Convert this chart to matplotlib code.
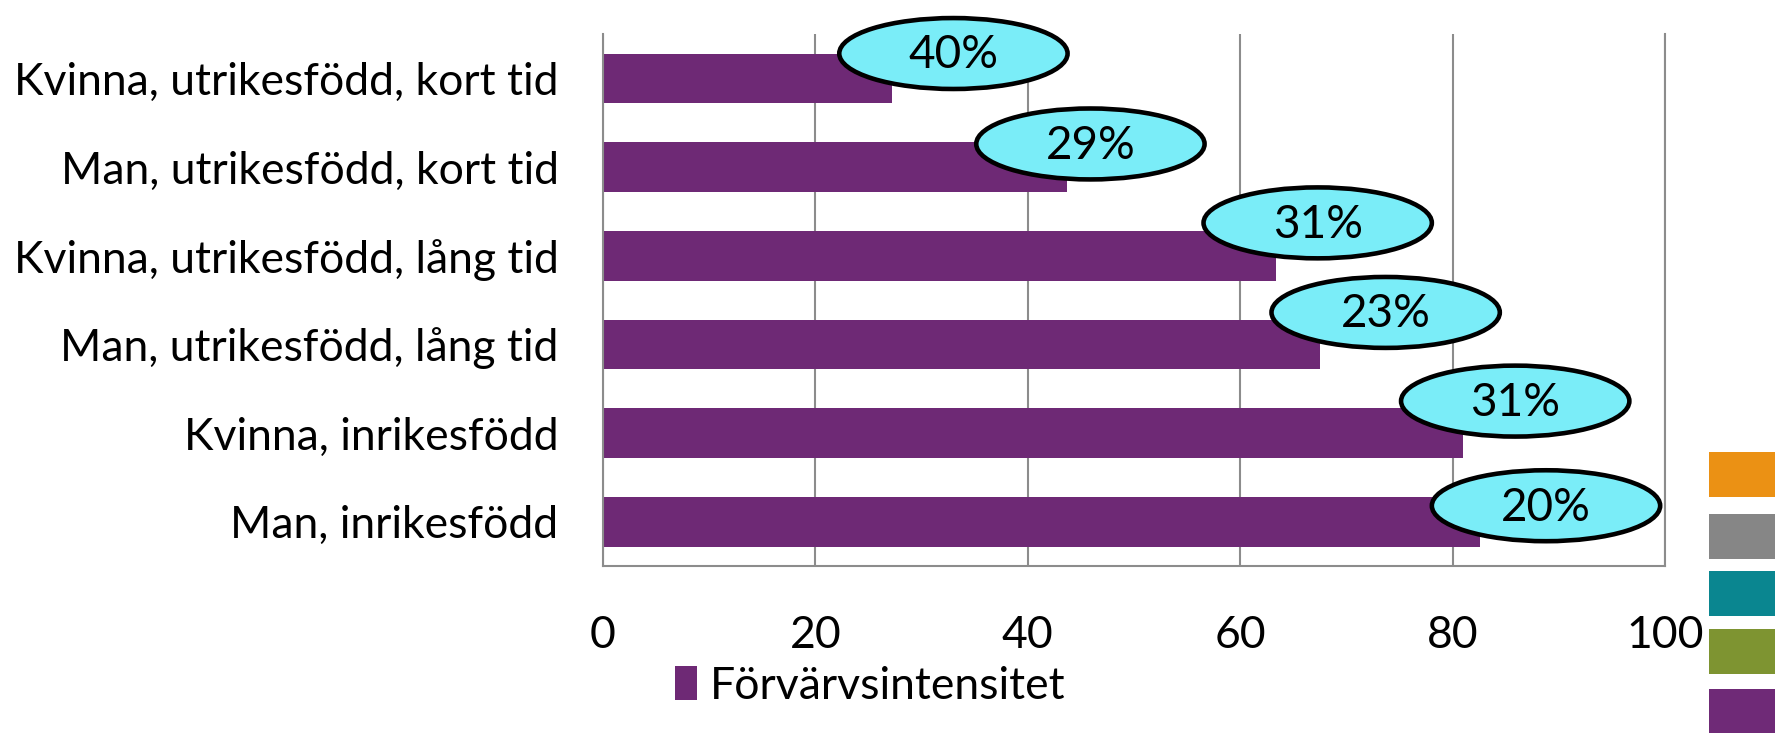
import matplotlib
matplotlib.use("Agg")
import matplotlib.pyplot as plt
from matplotlib.patches import Ellipse, Rectangle

plt.rcParams['font.family'] = ['Lato', 'DejaVu Sans']

# categories, top to bottom
categories = ["Kvinna, utrikesfödd, kort tid",
              "Man, utrikesfödd, kort tid",
              "Kvinna, utrikesfödd, lång tid",
              "Man, utrikesfödd, lång tid",
              "Kvinna, inrikesfödd",
              "Man, inrikesfödd"]
values = [27.2, 43.7, 63.4, 67.5, 81.0, 82.6]
callout_text = ["40%", "29%", "31%", "23%", "31%", "20%"]
# callout centre (x in data units, y offset above bar centre)
callout_x = [33.0, 45.9, 67.3, 73.7, 85.9, 88.8]
callout_dy = [0.28, 0.26, 0.37, 0.36, 0.36, 0.18]
xticks = [0, 20, 40, 60, 80, 100]
side_colors = ["#EB9114", "#868686", "#0A8690", "#7E9431", "#6F2A77"]

bar_color = "#6E2975"
grid_color = "#8C8C8C"

fig = plt.figure(figsize=(17.75, 7.33), dpi=100)
ax = fig.add_axes([0.3397, 0.2278, 0.5983, 0.7258])

ypos = list(range(len(categories)))
ax.barh(ypos, values, height=0.56, color=bar_color, zorder=2,
        label="Förvärvsintensitet")

ax.set_xlim(0, 100)
ax.set_ylim(len(categories) - 0.5, -0.5)
ax.set_xticks(xticks)
ax.set_xticklabels([str(t) for t in xticks], fontsize=32)
ax.tick_params(axis='x', length=0, pad=35)
ax.set_yticks(ypos)
ax.set_yticklabels(categories, fontsize=32)
ax.tick_params(axis='y', length=0, pad=32)
ax.grid(axis='x', color=grid_color, lw=1.5, zorder=0)

for side in ["left", "bottom", "right"]:
    ax.spines[side].set_color(grid_color)
    ax.spines[side].set_linewidth(1.5)
ax.spines["top"].set_visible(False)

for i, txt in enumerate(callout_text):
    cy = ypos[i] - callout_dy[i]
    e = Ellipse((callout_x[i], cy), width=21.5, height=0.8,
                facecolor="#7AEDF8", edgecolor="black", lw=3.3,
                zorder=3, clip_on=False)
    ax.add_patch(e)
    ax.text(callout_x[i], cy + 0.02, txt, ha="center", va="center",
            fontsize=33, zorder=4)

fig.legend(loc="center left", bbox_to_anchor=(0.37, 0.064), frameon=False,
           fontsize=32, handlelength=0.5, handleheight=0.8, handletextpad=0.3,
           borderaxespad=0)

# colour squares at the right edge
sq_top = [452, 514, 571, 629, 689]
for c, t in zip(side_colors, sq_top):
    fig.add_artist(Rectangle((1709 / 1775, 1 - (t + 45) / 733), 66 / 1775,
                             45 / 733, transform=fig.transFigure,
                             color=c, lw=0))

fig.savefig("out.png", dpi=100)
